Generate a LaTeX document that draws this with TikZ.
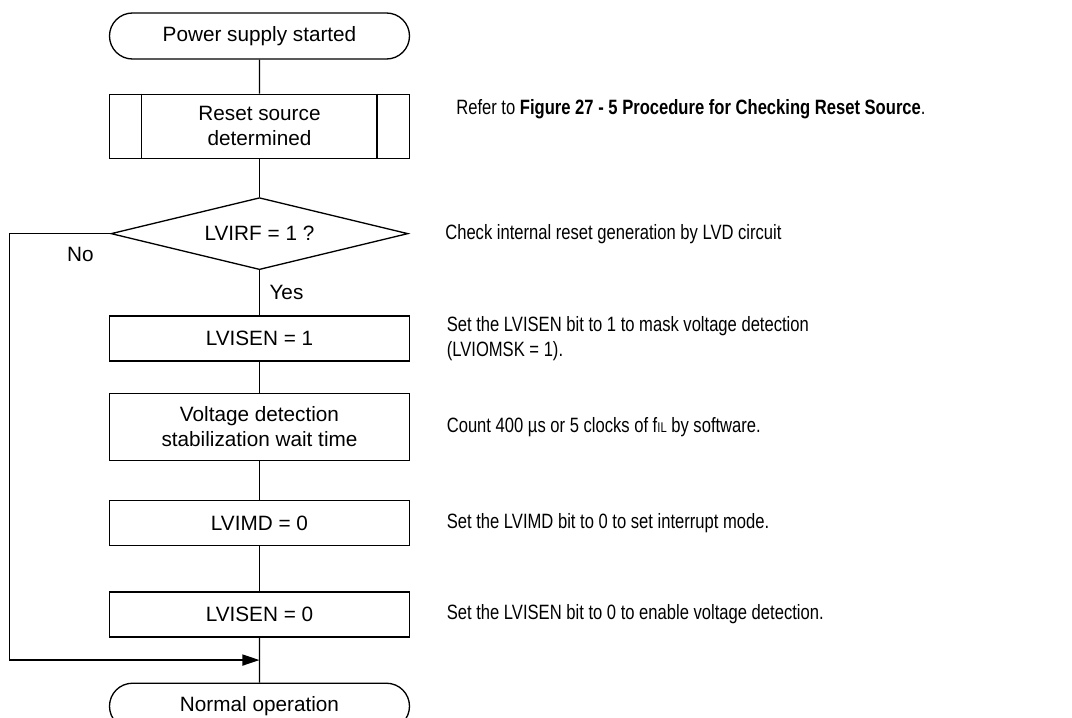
\documentclass[tikz,border=0pt]{standalone}
\usepackage{fontspec}
\setmainfont{Liberation Sans}
\newfontfamily\notefont[FakeStretch=0.8]{Liberation Sans}
\usepackage{tikz}
\usetikzlibrary{positioning,shapes.geometric,shapes.misc,arrows.meta,calc}

\begin{document}
\begin{tikzpicture}[every node/.style={font=\fontsize{11.8}{14.2}\selectfont},
      line width=0.75pt,
      box/.style={draw,minimum width=6cm,minimum height=0.9cm,align=center,inner sep=0pt},
      term/.style={draw,rounded rectangle,minimum width=6cm,minimum height=0.92cm,inner sep=0pt},
      decide/.style={draw,diamond,aspect=4.125,minimum width=5.94cm,minimum height=1.44cm,inner sep=0pt},
      note/.style={font=\notefont\fontsize{11.8}{14.2}\selectfont,align=left,inner sep=0pt},
      arrow/.style={-{Triangle[length=0.34cm,width=0.22cm]}}]
      \useasboundingbox (-5.19,0.72) rectangle (16.25,-13.62);
      % flow column
      \node[term] (start) {Power supply started};
      \node[box,minimum height=1.28cm,below=0.68cm of start] (src) {Reset source\\determined};
      \draw ([xshift=0.66cm]src.north west) -- ([xshift=0.66cm]src.south west)
            ([xshift=-0.66cm]src.north east) -- ([xshift=-0.66cm]src.south east);
      \node[decide,below=0.76cm of src] (lvirf) {LVIRF = 1 ?};
      \node[box,below=0.9cm of lvirf] (sen1) {LVISEN = 1};
      \node[box,minimum height=1.34cm,below=0.62cm of sen1] (wait) {Voltage detection\\stabilization wait time};
      \node[box,below=0.78cm of wait] (imd) {LVIMD = 0};
      \node[box,below=0.9cm of imd] (sen0) {LVISEN = 0};
      \node[term,below=0.9cm of sen0] (normal) {Normal operation};
      % notes
      \node[note,right=0.91cm of src,yshift=0.34cm] (n-src) {Refer to \textbf{Figure 27 - 5 Procedure for Checking Reset Source}.};
      \node[note,right=0.72cm of lvirf] (n-lvirf) {Check internal reset generation by LVD circuit};
      \node[note,right=0.72cm of sen1] (n-sen1) {Set the LVISEN bit to 1 to mask voltage detection\\(LVIOMSK = 1).};
      \node[note,right=0.72cm of wait] (n-wait) {Count 400 µs or 5 clocks of f{\fontsize{8}{8}\selectfont IL} by software.};
      \node[note,right=0.72cm of imd] (n-imd) {Set the LVIMD bit to 0 to set interrupt mode.};
      \node[note,right=0.72cm of sen0] (n-sen0) {Set the LVISEN bit to 0 to enable voltage detection.};
      % connectors
      \draw (start) -- (src); \draw (src) -- (lvirf);
      \draw (lvirf) -- node[right=2pt] (yes) {Yes} (sen1);
      \draw (sen1) -- (wait); \draw (wait) -- (imd); \draw (imd) -- (sen0); \draw (sen0) -- (normal);
      \coordinate[left=2.02cm of lvirf.west] (nobend);
      \coordinate (join) at ($(sen0.south)!0.5!(normal.north)$);
      \draw[arrow] (lvirf.west) -- (nobend) |- (join);
      \node (no) at ([shift={(-0.6,-0.42)}]lvirf.west) {No};
    \end{tikzpicture}
\end{document}
